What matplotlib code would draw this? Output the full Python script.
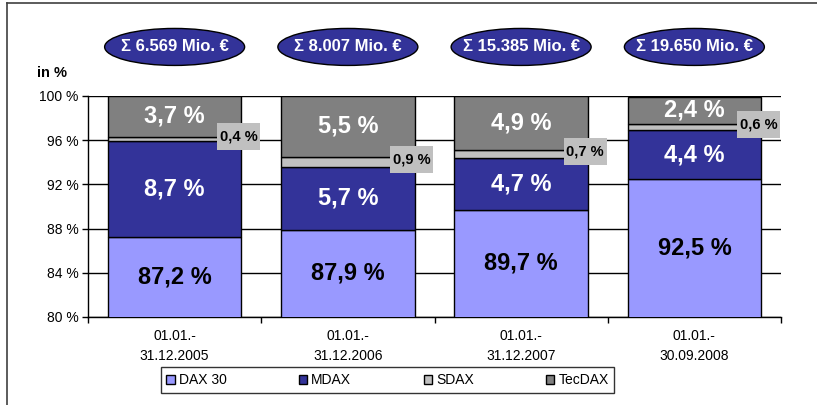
import numpy as np
import matplotlib
matplotlib.use("Agg")
import matplotlib.pyplot as plt
from matplotlib.patches import Ellipse, Rectangle
from matplotlib.lines import Line2D
from matplotlib.transforms import blended_transform_factory

plt.rcParams["font.family"] = ["Liberation Sans", "DejaVu Sans"]

# data
periods = ["01.01.-\n31.12.2005", "01.01.-\n31.12.2006", "01.01.-\n31.12.2007", "01.01.-\n30.09.2008"]
totals = ["Σ 6.569 Mio. €", "Σ 8.007 Mio. €", "Σ 15.385 Mio. €", "Σ 19.650 Mio. €"]
dax30 = [87.2, 87.9, 89.7, 92.5]
mdax = [8.7, 5.7, 4.7, 4.4]
sdax = [0.4, 0.9, 0.7, 0.6]
tecdax = [3.7, 5.5, 4.9, 2.4]
y_ticks = [80, 84, 88, 92, 96, 100]

c_dax, c_mdax, c_sdax, c_tec = "#9999FF", "#333399", "#C0C0C0", "#808080"

fig = plt.figure(figsize=(8.17, 4.05), dpi=100)
ax = fig.add_axes([88 / 817, 88 / 405, 693 / 817, 221 / 405])

x = np.arange(len(periods))
w = 0.77
bottom = np.full(len(x), 0.0)
series = [(dax30, c_dax, "DAX 30"), (mdax, c_mdax, "MDAX"),
          (sdax, c_sdax, "SDAX"), (tecdax, c_tec, "TecDAX")]
for vals, col, lab in series:
    ax.bar(x, vals, w, bottom=bottom, color=col, edgecolor="black", linewidth=1.0,
           label=lab, zorder=3)
    bottom = bottom + np.array(vals)

ax.set_ylim(80, 100)
ax.set_xlim(-0.5, len(x) - 0.5)

big = dict(fontsize=17, fontweight="bold", ha="center", va="center", zorder=5)
for i in x:
    ax.text(i, (80 + dax30[i]) / 2, f"{dax30[i]:.1f} %".replace(".", ","), color="black", **big)
    ax.text(i, dax30[i] + mdax[i] / 2, f"{mdax[i]:.1f} %".replace(".", ","), color="white", **big)
    top_base = dax30[i] + mdax[i] + sdax[i]
    ax.text(i, top_base + tecdax[i] / 2, f"{tecdax[i]:.1f} %".replace(".", ","), color="white", **big)
    # small SDAX label with grey box
    sx = i + 0.37
    sy = dax30[i] + mdax[i] + sdax[i] / 2 + 0.2
    bw, bh = 43 / 173.25, 27 / 11.05
    ax.add_patch(Rectangle((sx - bw / 2, sy - bh / 2), bw, bh, facecolor=c_sdax,
                           edgecolor="none", zorder=6, clip_on=False))
    ax.text(sx, sy, f"{sdax[i]:.1f} %".replace(".", ","), fontsize=10.5, fontweight="bold",
            ha="center", va="center", color="black", zorder=7, clip_on=False)

# total ellipses above bars
tr = blended_transform_factory(ax.transData, ax.transAxes)
for i in x:
    ax.add_patch(Ellipse((i, 1.222), 140 / 173.25, 37 / 221, transform=tr,
                         facecolor=c_mdax, edgecolor="black", linewidth=1.0, clip_on=False))
    ax.text(i, 1.222, totals[i], transform=tr, fontsize=12, fontweight="bold",
            color="white", ha="center", va="center")

# axes styling
ax.set_yticks(y_ticks)
ax.set_yticklabels([f"{t} %" for t in y_ticks], fontsize=10)
ax.yaxis.grid(True, color="black", linewidth=1.0, zorder=0)
ax.set_axisbelow(True)
ax.set_xticks(x)
ax.set_xticklabels(periods, fontsize=10, linespacing=1.5)
ax.set_xticks(np.arange(-0.5, len(x)), minor=True)
ax.tick_params(axis="x", which="major", length=0, pad=9)
ax.tick_params(axis="x", which="minor", length=4, width=1, direction="out")
ax.tick_params(axis="y", length=4, width=1, direction="out", pad=3)
for s in ["top", "right"]:
    ax.spines[s].set_visible(False)
for s in ["left", "bottom"]:
    ax.spines[s].set_linewidth(1.0)

fig.text(37 / 817, 1 - 73 / 405, "in %", fontsize=10.5, fontweight="bold", va="center")

leg = fig.legend(loc="center", bbox_to_anchor=(387.5 / 817, 1 - 380 / 405), ncol=4,
                 fontsize=10, frameon=True, fancybox=False, edgecolor="black",
                 handlelength=0.6, handleheight=0.6, handletextpad=0.3,
                 columnspacing=5.2, borderpad=0.4, borderaxespad=0)
leg.get_frame().set_linewidth(1.0)

# outer frame
fig.add_artist(Line2D([7 / 817, 1], [1 - 3 / 405, 1 - 3 / 405], color="#404040", linewidth=1.2))
fig.add_artist(Line2D([7 / 817, 7 / 817], [0, 1 - 3 / 405], color="#404040", linewidth=1.2))

fig.savefig("out.png", dpi=100)
